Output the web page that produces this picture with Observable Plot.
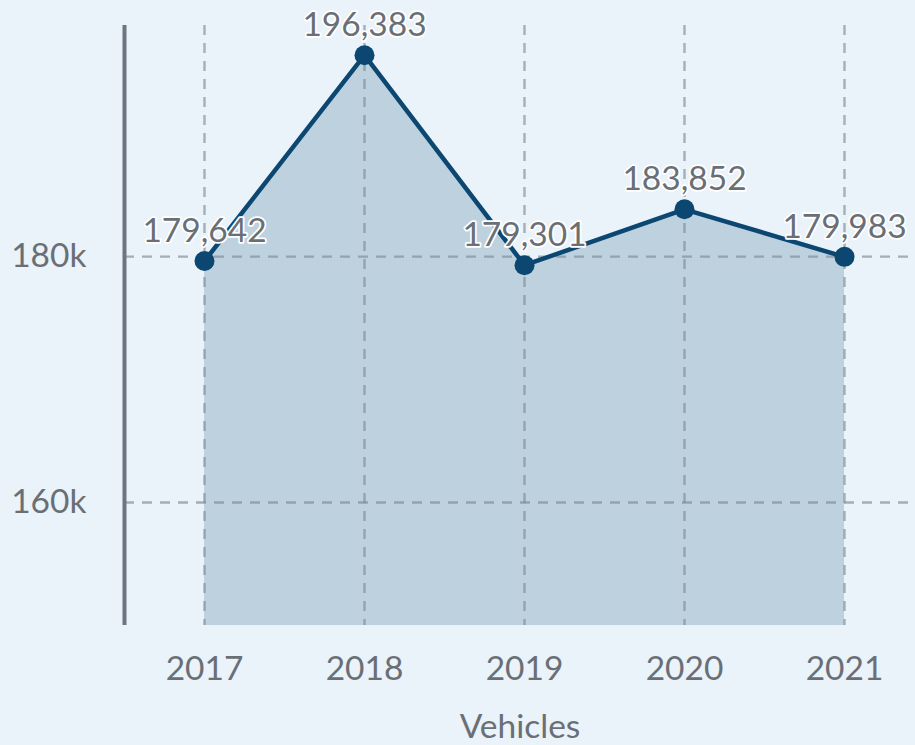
<!DOCTYPE html>
<html>
<head>
<meta charset="utf-8">
<script src="https://cdn.jsdelivr.net/npm/d3@7"></script>
<script src="https://cdn.jsdelivr.net/npm/@observablehq/plot@0.6"></script>
<style>
  html, body { margin: 0; padding: 0; background: #eaf2fa; }
  #chart svg { display: block; }
</style>
</head>
<body>
<div id="chart"></div>
<script>
const years = [2017, 2018, 2019, 2020, 2021];
const vehicles = [179642, 196383, 179301, 183852, 179983];
const yTicks = [160000, 180000];
const yTickLabels = ["160k", "180k"];
const xLabel = "Vehicles";

const data = years.map((year, i) => ({ year, value: vehicles[i] }));
const yMin = 150000;
const fmt = d3.format(",");
const FS = 33.5;

const chart = Plot.plot({
  width: 915,
  height: 745,
  marginTop: 25,
  marginBottom: 120,
  marginLeft: 124,
  marginRight: 0,
  style: { background: "#eaf2fa", fontFamily: "Lato, 'Open Sans', sans-serif", fontSize: FS + "px", color: "#6a6f76", overflow: "visible" },
  x: { type: "linear", domain: [2016.5, 2021.5], range: [124, 924] },
  y: { domain: [yMin, 198800] },
  marks: [
    Plot.areaY(data, { x: "year", y1: yMin, y2: "value", fill: "#bdd1de" }),
    Plot.gridX(years, { stroke: "#7f8a94", strokeOpacity: 0.65, strokeWidth: 2.4, strokeDasharray: "10,8" }),
    Plot.gridY(yTicks, { stroke: "#7f8a94", strokeOpacity: 0.65, strokeWidth: 2.4, strokeDasharray: "10,8" }),
    Plot.axisX(years, { tickSize: 0, tickPadding: 31, tickFormat: d => String(d), fontSize: FS, color: "#6a6f76", label: null }),
    Plot.text([xLabel], { frameAnchor: "bottom", dy: 112, lineAnchor: "bottom", fontSize: FS, fill: "#6a6f76" }),
    Plot.axisY(yTicks, { tickSize: 0, tickPadding: 38, tickFormat: d => yTickLabels[yTicks.indexOf(d)], label: null, fontSize: FS, color: "#6a6f76" }),
    Plot.ruleX([2016.5], { stroke: "#6e7580", strokeWidth: 4 }),
    Plot.line(data, { x: "year", y: "value", stroke: "#0b4770", strokeWidth: 4.5 }),
    Plot.dot(data, { x: "year", y: "value", r: 10, fill: "#0b4770", stroke: "none" }),
    Plot.text(data, { x: "year", y: "value", text: d => fmt(d.value), dy: -19, lineAnchor: "bottom", fontSize: FS, fill: "#6a6f76", stroke: "white", strokeWidth: 3.5, paintOrder: "stroke" })
  ]
});
document.getElementById("chart").appendChild(chart);
</script>
</body>
</html>
